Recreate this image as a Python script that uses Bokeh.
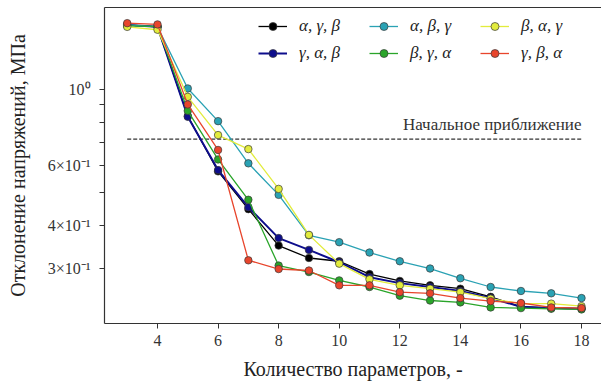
from bokeh.plotting import figure
from bokeh.models import (Range1d, FixedTicker, CustomJSTickFormatter, Legend,
                          LegendItem, Label, LinearAxis)
from bokeh.embed import file_html
from bokeh.resources import INLINE

# ---------------- data ----------------
params = [3, 4, 5, 6, 7, 8, 9, 10, 11, 12, 13, 14, 15, 16, 17, 18]

agb = [1.54, 1.52, 0.835, 0.576, 0.447, 0.350, 0.322, 0.315, 0.289, 0.276, 0.268, 0.262, 0.248, 0.232, 0.230, 0.229]
gab = [1.54, 1.52, 0.831, 0.581, 0.453, 0.368, 0.340, 0.313, 0.283, 0.272, 0.265, 0.258, 0.246, 0.232, 0.230, 0.229]
abg = [1.54, 1.52, 1.005, 0.807, 0.608, 0.492, 0.375, 0.358, 0.334, 0.315, 0.300, 0.281, 0.265, 0.258, 0.254, 0.246]
bga = [1.53, 1.524, 0.865, 0.624, 0.476, 0.306, 0.293, 0.277, 0.265, 0.250, 0.242, 0.239, 0.231, 0.230, 0.229, 0.228]
bag = [1.52, 1.491, 0.950, 0.735, 0.669, 0.512, 0.376, 0.310, 0.279, 0.268, 0.262, 0.256, 0.245, 0.237, 0.237, 0.233]
gba = [1.558, 1.545, 0.903, 0.665, 0.317, 0.299, 0.296, 0.268, 0.268, 0.256, 0.254, 0.246, 0.241, 0.238, 0.231, 0.230]

series_labels = ["α, γ, β", "γ, α, β", "α, β, γ", "β, γ, α", "β, α, γ", "γ, β, α"]
series_values = [agb, gab, abg, bga, bag, gba]
series_colors = ["#000000", "#0d0d8c", "#2aa2b4", "#2aa52a", "#e2ec3c", "#e8452c"]

initial_x = [3, 18]
initial_level = 0.715
initial_label = "Начальное приближение"

x_ticks = [4, 6, 8, 10, 12, 14, 16, 18]
y_ticks = [0.3, 0.4, 0.5, 0.6, 0.7, 0.8, 0.9, 1.0]
y_tick_labels = ["3×10⁻¹", "4×10⁻¹", "", "6×10⁻¹", "", "", "", "10⁰"]

x_title = "Количество параметров, -"
y_title = "Отклонение напряжений, МПа"

FONT = "Liberation Serif"
AX = "#333333"

p = figure(width=601, height=382, y_axis_type="log",
           x_range=Range1d(2.25, 18.66), y_range=Range1d(0.2074, 1.731),
           output_backend="svg", toolbar_location=None,
           min_border_left=104, min_border_right=0, min_border_top=7, min_border_bottom=58)
p.outline_line_color = None
p.grid.visible = False
p.background_fill_color = "white"
p.border_fill_color = "white"

# dashed reference line
p.line(initial_x, [initial_level, initial_level], line_color="#333333",
       line_width=1.2, line_dash="4 2")
p.add_layout(Label(x=initial_x[1], y=initial_level, text=initial_label,
                   text_align="right", text_baseline="bottom", y_offset=5,
                   text_font=FONT, text_font_size="17px", text_color="#333333"))

items = []
for lab, vals, col in zip(series_labels, series_values, series_colors):
    lw = 2.0 if col == "#0d0d8c" else 1.3
    r1 = p.line(params, vals, line_color=col, line_width=lw)
    r2 = p.scatter(params, vals, size=7.5, fill_color=col, line_color="#3a3a3a",
                   line_width=0.7)
    items.append(LegendItem(label=lab, renderers=[r1, r2]))

leg = Legend(items=items, location=(154, 260), orientation="vertical", ncols=3,
             border_line_color=None, background_fill_alpha=0, padding=0, margin=0,
             glyph_width=29, glyph_height=20, label_height=20, spacing=7,
             label_standoff=12, label_width=63,
             label_text_font=FONT, label_text_font_style="italic",
             label_text_font_size="17px", label_text_color="#222222")
p.add_layout(leg, "center")

# axes styling
xa = p.xaxis[0]
xa.ticker = FixedTicker(ticks=x_ticks, minor_ticks=[])
ya = p.yaxis[0]
ya.ticker = FixedTicker(ticks=y_ticks, minor_ticks=[])
ya.formatter = CustomJSTickFormatter(args=dict(vals=y_ticks, labs=y_tick_labels), code="""
for (let i = 0; i < vals.length; i++) {
  if (Math.abs(vals[i] - tick) < 1e-6) return labs[i];
}
return "";
""")
for ax in (xa, ya):
    ax.axis_line_color = AX
    ax.axis_line_width = 1.2
    ax.major_tick_line_color = AX
    ax.major_tick_in = 0
    ax.major_tick_out = 5
    ax.minor_tick_line_color = None
    ax.major_label_text_font = FONT
    ax.major_label_text_font_size = "16px"
    ax.major_label_text_color = "#333333"
    ax.axis_label_text_font = FONT
    ax.axis_label_text_font_style = "normal"
    ax.axis_label_text_font_size = "20px"
    ax.axis_label_text_color = "#222222"
    ax.major_label_standoff = 6
xa.axis_label = x_title
ya.axis_label = y_title
xa.axis_label_standoff = 9
ya.major_label_standoff = 9
ya.axis_label_standoff = 16

top = LinearAxis(ticker=FixedTicker(ticks=[]), major_label_text_font_size="0px",
                 major_tick_line_color=None, minor_tick_line_color=None,
                 axis_line_color=AX, axis_line_width=1.2, major_tick_out=0,
                 major_label_standoff=0)
p.add_layout(top, "above")

open("out.html", "w").write(file_html(p, INLINE))
